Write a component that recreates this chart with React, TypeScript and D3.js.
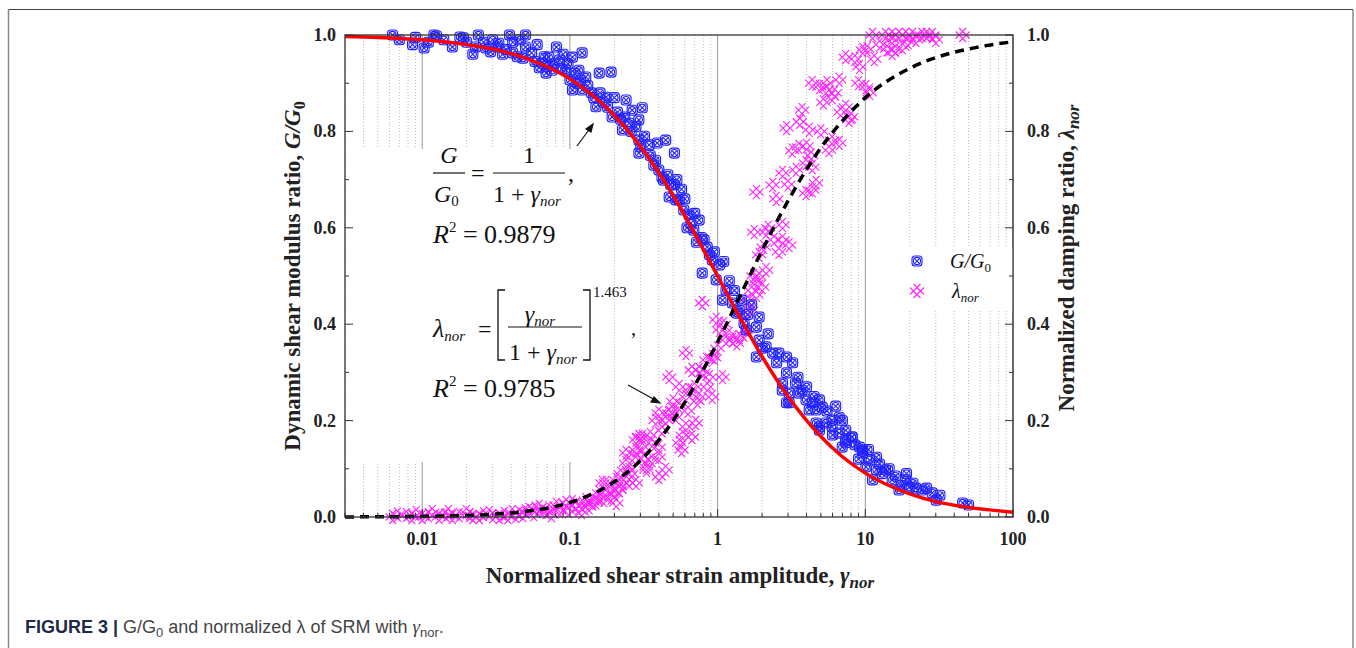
import React from 'react';
import * as d3 from 'd3';

// scatter data: [normalized strain, value]
const gRatioPts: [number, number][] = [
  [0.0063, 1.0], [0.0086, 0.98], [0.0103, 0.973], [0.012, 1.0], [0.0125, 0.998], [0.016, 0.975],
  [0.018, 0.996], [0.019, 0.994], [0.024, 1.0], [0.023, 0.975], [0.027, 0.973], [0.029, 0.965],
  [0.032, 0.975], [0.033, 0.983], [0.039, 1.0], [0.041, 0.985], [0.041, 0.963], [0.05, 1.0],
  [0.05, 0.975], [0.048, 0.952], [0.055, 0.963], [0.062, 0.932], [0.065, 0.942], [0.069, 0.921],
  [0.072, 0.954], [0.076, 0.927], [0.081, 0.975], [0.085, 0.948], [0.094, 0.927], [0.1, 0.907],
  [0.104, 0.954], [0.121, 0.963], [0.115, 0.927], [0.104, 0.886], [0.128, 0.913], [0.158, 0.921],
  [0.19, 0.923], [0.121, 0.886], [0.15, 0.851], [0.176, 0.871], [0.193, 0.83], [0.24, 0.865],
  [0.264, 0.844], [0.293, 0.824], [0.309, 0.849], [0.227, 0.803], [0.252, 0.817], [0.293, 0.782],
  [0.302, 0.768], [0.293, 0.755], [0.39, 0.776], [0.445, 0.782], [0.51, 0.755], [0.52, 0.658],
  [0.42, 0.705], [0.47, 0.664], [0.344, 0.772], [0.37, 0.73], [0.43, 0.699], [0.51, 0.689],
  [0.55, 0.658], [0.59, 0.637], [0.64, 0.627], [0.69, 0.595], [0.75, 0.616], [0.81, 0.575],
  [0.88, 0.544], [0.92, 0.533], [1.03, 0.523], [0.787, 0.506], [0.978, 0.492], [1.14, 0.471],
  [1.08, 0.45], [1.26, 0.444], [1.34, 0.423], [1.4, 0.429], [1.51, 0.402], [1.56, 0.388],
  [1.83, 0.394], [1.91, 0.415], [1.91, 0.367], [2.13, 0.353], [2.36, 0.34], [1.83, 0.332],
  [2.51, 0.32], [2.93, 0.332], [3.22, 0.32], [2.93, 0.299], [2.75, 0.278], [3.05, 0.257],
  [3.05, 0.237], [3.37, 0.278], [3.73, 0.263], [3.97, 0.243], [4.37, 0.237], [4.64, 0.222],
  [5.11, 0.228], [4.89, 0.187], [5.41, 0.195], [5.96, 0.187], [6.66, 0.207], [7.37, 0.18],
  [8.14, 0.166], [7.37, 0.154], [9.13, 0.145], [9.6, 0.133], [10.7, 0.118], [11.9, 0.098],
  [11.2, 0.077], [2.74, 0.263], [2.93, 0.237], [3.55, 0.257], [4.17, 0.222], [4.89, 0.243],
  [4.64, 0.195], [4.89, 0.18], [5.96, 0.201], [6.66, 0.174], [6.98, 0.145], [7.37, 0.16],
  [8.14, 0.166], [9.6, 0.139], [10.1, 0.104], [11.9, 0.124], [13.7, 0.098], [15.2, 0.077],
  [16.9, 0.056], [18.8, 0.077], [19.9, 0.062], [24.2, 0.056], [28.4, 0.05], [30.2, 0.035],
  [45.6, 0.029],
  [0.007, 0.99], [0.009, 0.995], [0.011, 0.985], [0.014, 0.99], [0.02, 0.985], [0.022, 0.96],
  [0.026, 0.985], [0.03, 0.99], [0.035, 0.96], [0.037, 0.97], [0.044, 0.955], [0.046, 0.99],
  [0.058, 0.945], [0.06, 0.98], [0.067, 0.955], [0.07, 0.935], [0.078, 0.94], [0.088, 0.93],
  [0.09, 0.96], [0.097, 0.94], [0.108, 0.92], [0.112, 0.9], [0.118, 0.905], [0.132, 0.895],
  [0.14, 0.88], [0.145, 0.87], [0.16, 0.88], [0.168, 0.86], [0.18, 0.85], [0.2, 0.87],
  [0.21, 0.84], [0.22, 0.825], [0.235, 0.83], [0.26, 0.8], [0.28, 0.81], [0.32, 0.79],
  [0.35, 0.75], [0.38, 0.74], [0.4, 0.72], [0.46, 0.71], [0.48, 0.69], [0.53, 0.7],
  [0.57, 0.68], [0.6, 0.66], [0.62, 0.6], [0.66, 0.61], [0.7, 0.63], [0.72, 0.57],
  [0.78, 0.58], [0.85, 0.56], [0.95, 0.55], [1.1, 0.53], [1.2, 0.49], [1.3, 0.47],
  [1.45, 0.45], [1.6, 0.42], [1.7, 0.44], [2.0, 0.35], [2.2, 0.38], [2.6, 0.34],
  [3.5, 0.29], [4.0, 0.27], [4.5, 0.25], [5.5, 0.22], [6.0, 0.17], [6.3, 0.23],
  [7.0, 0.2], [8.5, 0.15], [9.0, 0.12], [10.5, 0.14], [12.5, 0.11], [13.0, 0.09],
  [14.5, 0.1], [16.0, 0.085], [17.5, 0.065], [19.0, 0.09], [21.0, 0.07], [22.0, 0.06],
  [26.0, 0.06], [32.0, 0.045], [50.0, 0.025],
];

const lambdaPts: [number, number][] = [
  [0.0063, 0.0], [0.0078, 0.004], [0.0091, 0.008], [0.01, 0.0], [0.0117, 0.01], [0.0145, 0.004],
  [0.0178, 0.004], [0.0199, 0.01], [0.0243, 0.0], [0.0284, 0.008], [0.0332, 0.0], [0.0407, 0.01],
  [0.0453, 0.008], [0.053, 0.015], [0.062, 0.021], [0.069, 0.01], [0.081, 0.025], [0.094, 0.029],
  [0.104, 0.031], [0.115, 0.015], [0.128, 0.029], [0.142, 0.031], [0.158, 0.05], [0.166, 0.071],
  [0.184, 0.056], [0.206, 0.077], [0.216, 0.056], [0.24, 0.112], [0.264, 0.124], [0.252, 0.071],
  [0.28, 0.16], [0.293, 0.166], [0.309, 0.145], [0.33, 0.104], [0.36, 0.118], [0.4, 0.145],
  [0.4, 0.083], [0.445, 0.201], [0.47, 0.216], [0.49, 0.222], [0.787, 0.444], [0.978, 0.409],
  [1.03, 0.388], [1.14, 0.367], [1.26, 0.367], [1.4, 0.373], [1.56, 0.388], [1.83, 0.485],
  [2.0, 0.477], [1.91, 0.498], [0.61, 0.34], [0.67, 0.305], [0.75, 0.305], [0.84, 0.326],
  [0.92, 0.332], [0.88, 0.29], [1.08, 0.29], [0.47, 0.29], [0.55, 0.27], [0.64, 0.263],
  [0.61, 0.249], [0.75, 0.249], [0.92, 0.249], [0.4, 0.216], [0.445, 0.201], [0.52, 0.207],
  [0.61, 0.187], [0.71, 0.195], [0.67, 0.166], [0.55, 0.154], [0.57, 0.139], [0.309, 0.166],
  [0.28, 0.139], [0.24, 0.133], [0.36, 0.154], [0.4, 0.124], [0.445, 0.098], [0.33, 0.098],
  [0.252, 0.098], [0.28, 0.071], [0.216, 0.056], [0.176, 0.071], [0.158, 0.041], [0.206, 0.029],
  [0.128, 0.035], [1.83, 0.674], [2.36, 0.689], [2.75, 0.714], [2.93, 0.807], [3.73, 0.844],
  [3.55, 0.768], [3.97, 0.734], [4.37, 0.726], [4.64, 0.693], [3.97, 0.672], [4.37, 0.678],
  [4.17, 0.803], [5.96, 0.782], [6.66, 0.776], [5.68, 0.761], [4.37, 0.9], [4.89, 0.892],
  [5.41, 0.886], [5.96, 0.871], [6.66, 0.907], [7.37, 0.851], [7.76, 0.824], [7.37, 0.954],
  [9.13, 0.934], [9.6, 0.969], [10.1, 0.892], [10.7, 0.88], [11.2, 1.0], [13.7, 1.0],
  [15.2, 0.99], [16.9, 1.0], [18.8, 1.0], [17.8, 0.975], [15.2, 0.963], [16.0, 0.969],
  [20.9, 1.0], [24.2, 1.0], [28.4, 1.0], [45.6, 1.0], [15.2, 1.0], [1.51, 0.378],
  [1.69, 0.429], [1.83, 0.461], [2.13, 0.512], [1.91, 0.544], [1.77, 0.591], [2.13, 0.591],
  [2.41, 0.575], [2.75, 0.575], [3.05, 0.564], [2.75, 0.606],
  [0.0068, 0.005], [0.0085, 0.0], [0.011, 0.004], [0.013, 0.0], [0.015, 0.01], [0.016, 0.0],
  [0.021, 0.004], [0.022, 0.0], [0.026, 0.006], [0.03, 0.002], [0.036, 0.006], [0.038, 0.0],
  [0.043, 0.002], [0.048, 0.004], [0.05, 0.012], [0.057, 0.006], [0.058, 0.018], [0.065, 0.012],
  [0.072, 0.018], [0.075, 0.004], [0.085, 0.012], [0.09, 0.022], [0.098, 0.012], [0.11, 0.025],
  [0.12, 0.01], [0.135, 0.02], [0.15, 0.03], [0.17, 0.035], [0.19, 0.04], [0.2, 0.05],
  [0.22, 0.09], [0.23, 0.07], [0.26, 0.09], [0.3, 0.13], [0.32, 0.12], [0.35, 0.17],
  [0.38, 0.2], [0.42, 0.18], [0.5, 0.24], [0.55, 0.23], [0.58, 0.17], [0.63, 0.22],
  [0.7, 0.27], [0.73, 0.24], [0.8, 0.3], [0.85, 0.27], [0.95, 0.33], [1.0, 0.35],
  [1.1, 0.4], [1.2, 0.38], [1.35, 0.36], [1.5, 0.42], [1.6, 0.45], [1.7, 0.47],
  [1.75, 0.5], [2.05, 0.56], [2.2, 0.6], [2.5, 0.66], [2.6, 0.55], [3.0, 0.69],
  [3.2, 0.76], [3.4, 0.72], [3.6, 0.82], [4.0, 0.77], [4.3, 0.75], [5.0, 0.8],
  [5.2, 0.86], [5.5, 0.9], [6.2, 0.88], [6.8, 0.84], [8.0, 0.83], [8.5, 0.95],
  [9.0, 0.9], [10.3, 0.97], [11.5, 0.95], [12.5, 0.98], [14.0, 0.97], [19.5, 0.985],
  [22.0, 0.99], [26.0, 1.0], [30.0, 0.99],
];

// fitted curves at these strains
const fitStrain = [0.003, 0.005, 0.01, 0.02, 0.03, 0.05, 0.1, 0.2, 0.3, 0.5, 0.7, 1, 1.5, 2, 3, 5, 7, 10, 20, 30, 50, 100];
const fitG = [0.997, 0.995, 0.99, 0.98, 0.971, 0.952, 0.909, 0.833, 0.769, 0.667, 0.588, 0.5, 0.4, 0.333, 0.25, 0.167, 0.125, 0.091, 0.048, 0.032, 0.02, 0.01];
const fitLambda = [0.0002, 0.0004, 0.0012, 0.0032, 0.0057, 0.0116, 0.03, 0.073, 0.117, 0.2, 0.273, 0.363, 0.474, 0.553, 0.656, 0.766, 0.822, 0.87, 0.931, 0.953, 0.971, 0.986];

const xTickLabels = ['0.01', '0.1', '1', '10', '100'];
const yTickLabels = ['0.0', '0.2', '0.4', '0.6', '0.8', '1.0'];

const W = 1356, H = 648;
const left = 345, right = 1013, top = 35, bottom = 517;
const serif = '"Liberation Serif", "Times New Roman", serif';

const App = () => {
  const x = d3.scaleLog().domain([0.003, 100]).range([left, right]);
  const y = d3.scaleLinear().domain([0, 1]).range([bottom, top]);

  const xTicks = x.ticks();
  const isDecade = (v: number) => Math.abs(Math.log10(v) - Math.round(Math.log10(v))) < 1e-6;
  const yMinor = d3.range(0, 11).map(i => i / 10);

  const line = d3.line<number>()
    .x((_, i) => x(fitStrain[i]))
    .curve(d3.curveMonotoneX);
  const redPath = line.y(v => y(v))(fitG);
  const dashPath = line.y(v => y(v))(fitLambda);

  const blueMarker = (cx: number, cy: number, k: number) => (
    <g key={k} transform={`translate(${cx},${cy})`} fill="none" stroke="#1f1fff" strokeWidth={1.1}>
      <rect x={-5} y={-5} width={10} height={10} rx={3} />
      <circle r={3.6} />
      <path d="M-3.3,-3.3L3.3,3.3M-3.3,3.3L3.3,-3.3" />
    </g>
  );
  const pinkMarker = (cx: number, cy: number, k: number) => (
    <path key={k} transform={`translate(${cx},${cy})`} fill="none" stroke="#ff22ff" strokeWidth={1.1}
      d="M-7,-3.5L3.5,7M-3.5,-7L7,3.5M-7,3.5L3.5,-7M-3.5,7L7,-3.5" />
  );

  return (
    <svg width={W} height={H} style={{ position: 'absolute', left: 0, top: 0, background: '#fff' }}>
      <style>{'body{margin:0;overflow:hidden}'}</style>
      {/* frame */}
      <path d="M8.5,648V9.5" fill="none" stroke="#888" strokeWidth={1.5} />
      <path d="M1353,9.5V648" fill="none" stroke="#888" strokeWidth={1.5} />
      <path d="M8.5,9.5H1353" fill="none" stroke="#444" strokeWidth={1.2} />

      {/* grid */}
      {xTicks.map((t, i) => (
        isDecade(t)
          ? <line key={i} x1={x(t)} x2={x(t)} y1={top} y2={bottom} stroke="#999" strokeWidth={1} />
          : <line key={i} x1={x(t)} x2={x(t)} y1={top} y2={bottom} stroke="#bbb" strokeWidth={1} strokeDasharray="1,2" />
      ))}
      {/* white boxes behind the equations and legend */}
      <rect x={left + 1} y={149} width={265} height={313} fill="#fff" />
      <rect x={896} y={247} width={right - 896} height={64} fill="#fff" />

      {/* points */}
      {lambdaPts.map((p, i) => pinkMarker(x(p[0]), y(p[1]), i))}
      {gRatioPts.map((p, i) => blueMarker(x(p[0]), y(p[1]), i))}

      {/* fits */}
      <path d={dashPath || ''} fill="none" stroke="#000" strokeWidth={3.5} strokeDasharray="9,6" />
      <path d={redPath || ''} fill="none" stroke="#f00" strokeWidth={3.5} />

      {/* axes frame */}
      <rect x={left} y={top} width={right - left} height={bottom - top} fill="none" stroke="#333" strokeWidth={1.3} />
      {xTicks.map((t, i) => (
        <line key={i} x1={x(t)} x2={x(t)} y1={bottom} y2={bottom - (isDecade(t) ? 8 : 4)} stroke="#333" />
      ))}
      {yMinor.map((v, i) => (
        <g key={i} stroke="#333">
          <line x1={left} x2={left + (i % 2 === 0 ? 8 : 4)} y1={y(v)} y2={y(v)} />
          <line x1={right} x2={right - (i % 2 === 0 ? 8 : 4)} y1={y(v)} y2={y(v)} />
        </g>
      ))}

      {/* tick labels */}
      <g fontFamily={serif} fontWeight="bold" fontSize={18} fill="#222">
        {xTickLabels.map(l => (
          <text key={l} x={x(+l)} y={545} textAnchor="middle">{l}</text>
        ))}
        {yTickLabels.map(l => (
          <text key={'l' + l} x={336} y={y(+l) + 6} textAnchor="end">{l}</text>
        ))}
        {yTickLabels.map(l => (
          <text key={'r' + l} x={1027} y={y(+l) + 6} textAnchor="start">{l}</text>
        ))}
      </g>

      {/* axis titles */}
      <g fontFamily={serif} fontWeight="bold" fontSize={23} fill="#222">
        <text x={680} y={583} textAnchor="middle">
          Normalized shear strain amplitude, <tspan fontStyle="italic">γ</tspan>
          <tspan fontStyle="italic" fontSize={17} dy={5}>nor</tspan>
        </text>
        <text transform="translate(300,276) rotate(-90)" textAnchor="middle">
          Dynamic shear modulus ratio, <tspan fontStyle="italic">G/G</tspan>
          <tspan fontSize={16} dy={5}>0</tspan>
        </text>
        <text transform="translate(1074,258) rotate(-90)" textAnchor="middle">
          Normalized damping ratio, <tspan fontStyle="italic">λ</tspan>
          <tspan fontStyle="italic" fontSize={17} dy={5}>nor</tspan>
        </text>
      </g>

      {/* equations */}
      <g fontFamily={serif} fill="#111">
        <text x={449} y={163} fontSize={24} fontStyle="italic" textAnchor="middle">G</text>
        <line x1={433} x2={465} y1={173} y2={173} stroke="#111" strokeWidth={1.2} />
        <text x={434} y={202} fontSize={24} fontStyle="italic">G<tspan fontStyle="normal" fontSize={15} dy={4}>0</tspan></text>
        <text x={471} y={181} fontSize={24}>=</text>
        <text x={529} y={163} fontSize={24} textAnchor="middle">1</text>
        <line x1={493} x2={565} y1={173} y2={173} stroke="#111" strokeWidth={1.2} />
        <text x={493} y={202} fontSize={24}>1 + <tspan fontStyle="italic">γ</tspan><tspan fontStyle="italic" fontSize={15} dy={4}>nor</tspan></text>
        <text x={568} y={181} fontSize={24}>,</text>
        <text x={433} y={243} fontSize={26}><tspan fontStyle="italic">R</tspan><tspan fontSize={15} dy={-11}>2</tspan><tspan dy={11}> = 0.9879</tspan></text>

        <text x={433} y={337} fontSize={26} fontStyle="italic">λ<tspan fontSize={15} dy={4}>nor</tspan></text>
        <text x={478} y={337} fontSize={24}>=</text>
        <path d="M505,290H498V360H505" fill="none" stroke="#111" strokeWidth={1.3} />
        <path d="M583,290H590V360H583" fill="none" stroke="#111" strokeWidth={1.3} />
        <text x={540} y={322} fontSize={24} fontStyle="italic" textAnchor="middle">γ<tspan fontSize={15} dy={4}>nor</tspan></text>
        <line x1={508} x2={582} y1={327} y2={327} stroke="#111" strokeWidth={1.2} />
        <text x={509} y={360} fontSize={24}>1 + <tspan fontStyle="italic">γ</tspan><tspan fontStyle="italic" fontSize={15} dy={4}>nor</tspan></text>
        <text x={593} y={297} fontSize={15}>1.463</text>
        <text x={631} y={335} fontSize={20}>,</text>
        <text x={433} y={397} fontSize={26}><tspan fontStyle="italic">R</tspan><tspan fontSize={15} dy={-11}>2</tspan><tspan dy={11}> = 0.9785</tspan></text>
      </g>

      {/* arrows */}
      <g stroke="#111" strokeWidth={1.2} fill="#111">
        <line x1={577} y1={146} x2={591} y2={127} />
        <path d="M593,124L586,129L591,132Z" />
        <line x1={628} y1={385} x2={657} y2={401} />
        <path d="M660,403L651,402L654,397Z" />
      </g>

      {/* legend */}
      {blueMarker(917, 261, -1)}
      {pinkMarker(917, 291, -2)}
      <g fontFamily={serif} fontStyle="italic" fontSize={20} fill="#111">
        <text x={950} y={268}>G/G<tspan fontStyle="normal" fontSize={13} dy={4}>0</tspan></text>
        <text x={952} y={298}>λ<tspan fontSize={13} dy={4}>nor</tspan></text>
      </g>

      {/* caption */}
      <text x={25} y={633} fontFamily='"Liberation Sans", Arial, sans-serif' fontSize={18} fill="#444">
        <tspan fontWeight="bold" fill="#1d2a4a">FIGURE 3 | </tspan>
        G/G<tspan fontSize={13} dy={4}>0</tspan><tspan dy={-4}> and normalized λ of SRM with </tspan>
        <tspan fontFamily={serif} fontStyle="italic" fontSize={19}>γ</tspan><tspan fontSize={13} dy={4}>nor</tspan><tspan dy={-4}>.</tspan>
      </text>
    </svg>
  );
};

export default App;
